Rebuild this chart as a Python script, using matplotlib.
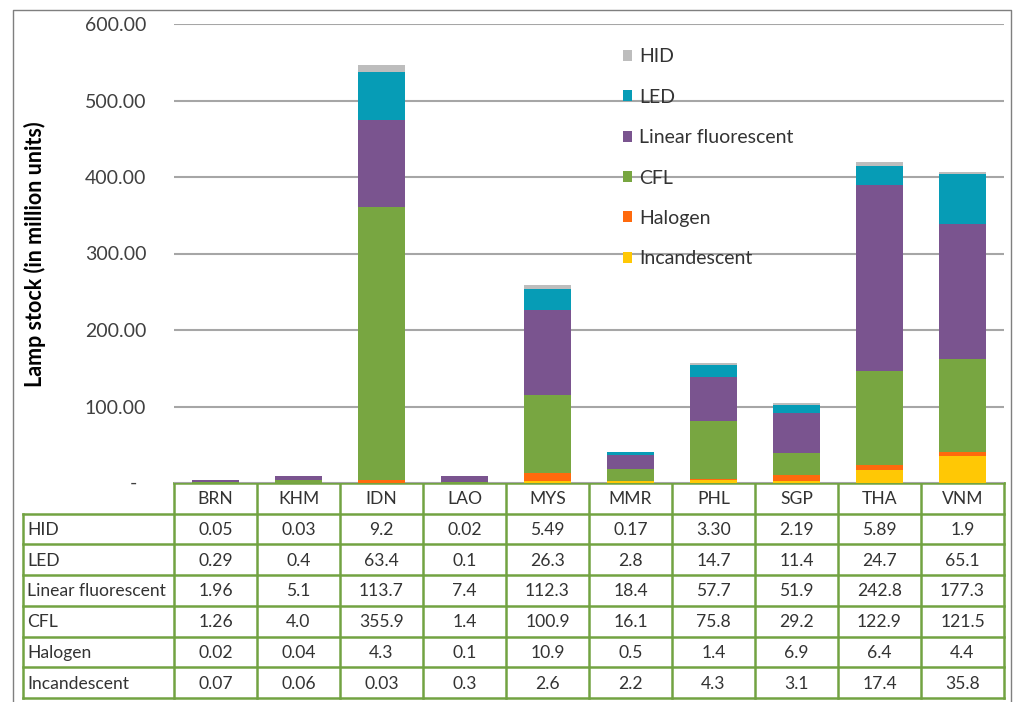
import matplotlib.pyplot as plt
import numpy as np
from matplotlib.patches import Patch

plt.rcParams["font.family"] = ["Lato", "DejaVu Sans"]

countries = ["BRN", "KHM", "IDN", "LAO", "MYS", "MMR", "PHL", "SGP", "THA", "VNM"]

# lamp stock per technology, million units
hid = [0.05, 0.03, 9.2, 0.02, 5.49, 0.17, 3.30, 2.19, 5.89, 1.9]
led = [0.29, 0.4, 63.4, 0.1, 26.3, 2.8, 14.7, 11.4, 24.7, 65.1]
linear_fl = [1.96, 5.1, 113.7, 7.4, 112.3, 18.4, 57.7, 51.9, 242.8, 177.3]
cfl = [1.26, 4.0, 355.9, 1.4, 100.9, 16.1, 75.8, 29.2, 122.9, 121.5]
halogen = [0.02, 0.04, 4.3, 0.1, 10.9, 0.5, 1.4, 6.9, 6.4, 4.4]
incandescent = [0.07, 0.06, 0.03, 0.3, 2.6, 2.2, 4.3, 3.1, 17.4, 35.8]

# table text exactly as printed
hid_txt = ["0.05", "0.03", "9.2", "0.02", "5.49", "0.17", "3.30", "2.19", "5.89", "1.9"]
led_txt = ["0.29", "0.4", "63.4", "0.1", "26.3", "2.8", "14.7", "11.4", "24.7", "65.1"]
lin_txt = ["1.96", "5.1", "113.7", "7.4", "112.3", "18.4", "57.7", "51.9", "242.8", "177.3"]
cfl_txt = ["1.26", "4.0", "355.9", "1.4", "100.9", "16.1", "75.8", "29.2", "122.9", "121.5"]
hal_txt = ["0.02", "0.04", "4.3", "0.1", "10.9", "0.5", "1.4", "6.9", "6.4", "4.4"]
inc_txt = ["0.07", "0.06", "0.03", "0.3", "2.6", "2.2", "4.3", "3.1", "17.4", "35.8"]

# bottom-to-top stacking order
stack = [
    ("Incandescent", incandescent, "#ffc805"),
    ("Halogen", halogen, "#ff6a0d"),
    ("CFL", cfl, "#78a641"),
    ("Linear fluorescent", linear_fl, "#7a548f"),
    ("LED", led, "#069cb6"),
    ("HID", hid, "#bdbdbd"),
]
table_rows = [
    ("HID", hid_txt),
    ("LED", led_txt),
    ("Linear fluorescent", lin_txt),
    ("CFL", cfl_txt),
    ("Halogen", hal_txt),
    ("Incandescent", inc_txt),
]

W, H = 1014, 702
fig = plt.figure(figsize=(W / 100, H / 100), dpi=100)

# pixel-space overlay for frame and data table
ov = fig.add_axes([0, 0, 1, 1])
ov.set_xlim(0, W)
ov.set_ylim(H, 0)
ov.axis("off")

x_left, x_right = 174, 1004
y_top, y_zero = 24, 483
ax = fig.add_axes([x_left / W, 1 - y_zero / H, (x_right - x_left) / W, (y_zero - y_top) / H])

x = np.arange(len(countries))
bottom = np.zeros(len(countries))
for name, vals, color in stack:
    ax.bar(x, vals, bottom=bottom, width=0.57, color=color, label=name, zorder=3)
    bottom += np.array(vals)

ax.set_xlim(-0.5, len(countries) - 0.5)
ax.set_ylim(0, 600)
ax.set_yticks(np.arange(0, 601, 100))
ax.set_yticklabels(["" if v == 0 else f"{v:.2f}" for v in np.arange(0, 601, 100)])
ax.tick_params(axis="y", length=0, pad=20, labelsize=14, labelcolor="#404040")
ax.set_xticks([])
for s in ax.spines.values():
    s.set_visible(False)
ax.grid(axis="y", color="#a6a6a6", lw=1.5, zorder=0)
ax.set_axisbelow(True)
ax.text(-0.045, 0, "-", transform=ax.get_yaxis_transform(), ha="right", va="center",
        fontsize=14, color="#404040")

handles = [Patch(facecolor=c, edgecolor="none") for _, _, c in stack[::-1]]
labels = [n for n, _, _ in stack[::-1]]
ax.legend(handles, labels, loc="upper left", bbox_to_anchor=(605 / W, 1 - 31 / H),
          bbox_transform=fig.transFigure, frameon=False, fontsize=14,
          handlelength=0.5, handleheight=0.5, handletextpad=0.35, labelspacing=1.2,
          labelcolor="#333333")

fig.text(35 / W, 1 - 254 / H, "Lamp stock (in million units)", rotation=90,
         ha="center", va="center", fontsize=15.5, fontweight="bold", color="#000000")

# outer frame
ov.plot([13, 13, 1011, 1011], [H, 10, 10, H], color="#7f7f7f", lw=1.0)

# data table below the bars
green = "#72a342"
col_w = (x_right - x_left) / len(countries)
row_h = (698 - 483) / 7
row_y = [483 + row_h * i for i in range(8)]
label_left = 23

for i in range(len(countries) + 1):
    xx = x_left + col_w * i
    ov.plot([xx, xx], [row_y[0], row_y[-1]], color=green, lw=1.8)
ov.plot([label_left, label_left], [row_y[1], row_y[-1]], color=green, lw=1.8)
ov.plot([x_left, x_right], [row_y[0], row_y[0]], color=green, lw=1.8)
for yy in row_y[1:]:
    ov.plot([label_left, x_right], [yy, yy], color=green, lw=1.8)

fs = 12.6
for i, c in enumerate(countries):
    ov.text(x_left + col_w * (i + 0.5), (row_y[0] + row_y[1]) / 2 + 1, c,
            ha="center", va="center", fontsize=fs, color="#333333")
for r, (name, txt) in enumerate(table_rows):
    yc = (row_y[r + 1] + row_y[r + 2]) / 2 + 1
    ov.text(label_left + 4, yc, name, ha="left", va="center", fontsize=fs, color="#333333")
    for i, t in enumerate(txt):
        ov.text(x_left + col_w * (i + 0.5), yc, t, ha="center", va="center",
                fontsize=fs, color="#333333")

fig.savefig("out.png", dpi=100)
